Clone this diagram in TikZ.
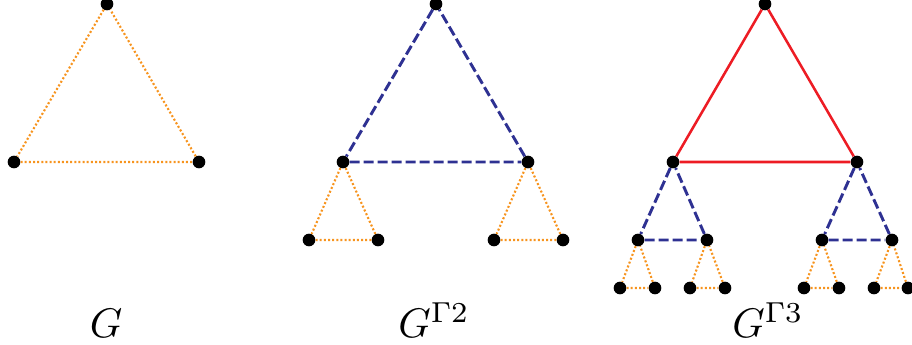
\documentclass[tikz,border=0pt]{standalone}
\usepackage{amsmath}
\usepackage{tikz}

\definecolor{gorange}{RGB}{247,148,30}
\definecolor{gblue}{RGB}{46,49,146}
\definecolor{gred}{RGB}{237,28,36}

\begin{document}
\begin{tikzpicture}[
    x=0.75pt, y=-0.75pt,
    vertex/.style={circle, fill=black, inner sep=0pt, minimum size=9.5pt},
    lvlone/.style={draw=gorange, line width=1.6pt, dash pattern=on 1.5pt off 1.6pt},
    lvltwo/.style={draw=gblue, line width=2.2pt, dash pattern=on 7.5pt off 3pt},
    lvlthree/.style={draw=gred, line width=1.9pt},
    caption/.style={anchor=base, inner sep=0pt}
  ]
    \useasboundingbox (0,0) rectangle (912,345);

    % G
    \node[vertex] (g-t) at (107,4) {};
    \node[vertex] (g-l) at (14,162) {};
    \node[vertex] (g-r) at (199,162) {};

    \draw[lvlone] (g-t) -- (g-l) -- (g-r) -- (g-t);

    % G^{Gamma 2}
    \node[vertex] (b-t) at (436,4) {};
    \node[vertex] (b-l) at (343,162) {};
    \node[vertex] (b-r) at (528,162) {};
    \node[vertex] (b-ll) at (309,240) {};
    \node[vertex] (b-lr) at (378,240) {};
    \node[vertex] (b-rl) at (494,240) {};
    \node[vertex] (b-rr) at (563,240) {};

    \draw[lvltwo] (b-t) -- (b-l) -- (b-r) -- (b-t);
    \draw[lvlone] (b-l) -- (b-ll) -- (b-lr) -- (b-l);
    \draw[lvlone] (b-r) -- (b-rl) -- (b-rr) -- (b-r);

    % G^{Gamma 3}
    \node[vertex] (c-t) at (765,4) {};
    \node[vertex] (c-l) at (673,162) {};
    \node[vertex] (c-r) at (857,162) {};
    \node[vertex] (c-la) at (638,240) {};
    \node[vertex] (c-lb) at (707,240) {};
    \node[vertex] (c-ra) at (822,240) {};
    \node[vertex] (c-rb) at (892,240) {};
    \node[vertex] (c-la1) at (620,288) {};
    \node[vertex] (c-la2) at (655,288) {};
    \node[vertex] (c-lb1) at (690,288) {};
    \node[vertex] (c-lb2) at (725,288) {};
    \node[vertex] (c-ra1) at (804,288) {};
    \node[vertex] (c-ra2) at (839,288) {};
    \node[vertex] (c-rb1) at (874,288) {};
    \node[vertex] (c-rb2) at (908,288) {};

    \draw[lvlthree] (c-t) -- (c-l) -- (c-r) -- (c-t);
    \draw[lvltwo] (c-l) -- (c-la) -- (c-lb) -- (c-l);
    \draw[lvltwo] (c-r) -- (c-ra) -- (c-rb) -- (c-r);
    \draw[lvlone] (c-la) -- (c-la1) -- (c-la2) -- (c-la);
    \draw[lvlone] (c-lb) -- (c-lb1) -- (c-lb2) -- (c-lb);
    \draw[lvlone] (c-ra) -- (c-ra1) -- (c-ra2) -- (c-ra);
    \draw[lvlone] (c-rb) -- (c-rb1) -- (c-rb2) -- (c-rb);

    % captions
    \node[caption] (cap1) at (106,337) {\scalebox{3.1}{$G$}};
    \node[caption] (cap2) at (434,337) {\scalebox{3.1}{$G^{\Gamma 2}$}};
    \node[caption] (cap3) at (768,337) {\scalebox{3.1}{$G^{\Gamma 3}$}};
\end{tikzpicture}
\end{document}
